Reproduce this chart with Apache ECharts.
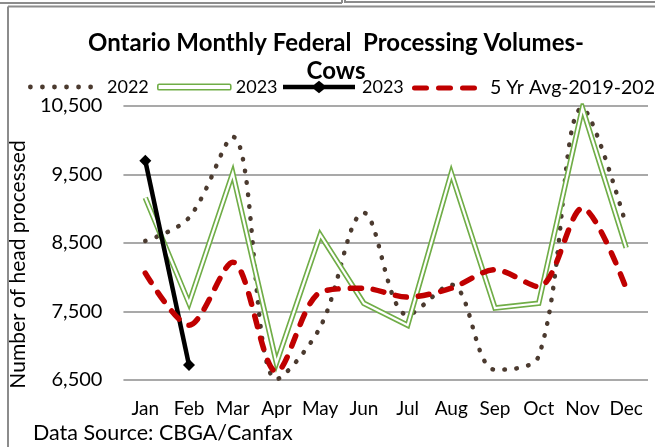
<!DOCTYPE html>
<html>
<head>
<meta charset="utf-8">
<script src="https://cdn.jsdelivr.net/npm/echarts@6/dist/echarts.min.js"></script>
<style>
html,body{margin:0;padding:0;background:#fff;}
#c{width:655px;height:447px;}
</style>
</head>
<body>
<div id="c"></div>
<script>
var months = ['Jan','Feb','Mar','Apr','May','Jun','Jul','Aug','Sep','Oct','Nov','Dec'];
var y2022 = [8530, 8870, 10050, 6510, 7270, 8940, 7450, 7890, 6650, 6850, 10470, 8760];
var y2023green = [9160, 7620, 9520, 6750, 8620, 7620, 7300, 9520, 7550, 7620, 10470, 8430];
var y2023black = [9700, 6720];
var avg5 = [8060, 7300, 8220, 6620, 7780, 7840, 7710, 7840, 8110, 7860, 9010, 7840];

var FONT = 'Lato, "Noto Sans", sans-serif';
var GREEN = '#70AD47', BROWN = '#4b3a2f', RED = '#C00000';

// legend icon shapes
function dotsPath(n, w, r) {
  var p = '', step = (w - 2 * r) / (n - 1);
  for (var i = 0; i < n; i++) {
    var cx = r + i * step;
    p += 'M' + (cx - r) + ',' + r + ' A' + r + ',' + r + ' 0 1 0 ' + (cx + r) + ',' + r +
         ' A' + r + ',' + r + ' 0 1 0 ' + (cx - r) + ',' + r + ' Z ';
  }
  return 'path://' + p;
}
var dashPath = 'path://M2.5,0 H14.5 A2.5,2.5 0 0 1 14.5,5 H2.5 A2.5,2.5 0 0 1 2.5,0 Z ' +
               'M26.5,0 H38.5 A2.5,2.5 0 0 1 38.5,5 H26.5 A2.5,2.5 0 0 1 26.5,0 Z ' +
               'M50.5,0 H62.5 A2.5,2.5 0 0 1 62.5,5 H50.5 A2.5,2.5 0 0 1 50.5,0 Z';
var blackPath = 'path://M0,4 L31,4 L36,0 L41,4 L72,4 L72,8.5 L41,8.5 L36,12.5 L31,8.5 L0,8.5 Z';

var chart = echarts.init(document.getElementById('c'), null, {renderer: 'canvas'});

function lg(item, left, w, h, pad, fs) {
  return {
    data: [item], left: left, top: 78, itemWidth: w, itemHeight: h,
    selectedMode: false, padding: 0,
    formatter: function (n) { return n.trim(); },
    textStyle: {fontFamily: FONT, fontSize: fs || 18, color: '#000', padding: [0, 0, 0, pad]}
  };
}

chart.setOption({
  animation: false,
  textStyle: {fontFamily: FONT},
  title: {
    text: 'Ontario Monthly Federal  Processing Volumes-\nCows',
    left: 336, top: 29, textAlign: 'center', padding: 0,
    textStyle: {fontFamily: FONT, fontSize: 24, fontWeight: 'bold', color: '#000', lineHeight: 28}
  },
  legend: [
    lg({name: '2022', icon: dotsPath(6, 65, 2.4), itemStyle: {color: BROWN, borderWidth: 0}}, 28, 65, 4.8, 9),
    lg({name: '2023', icon: 'roundRect', itemStyle: {color: '#fff', borderColor: GREEN, borderWidth: 1.6}}, 157, 73, 5.5, 0),
    lg({name: '2023 ', icon: blackPath, itemStyle: {color: '#000', borderWidth: 0}}, 283, 72, 12.5, 2),
    lg({name: '5 Yr Avg-2019-2023', icon: dashPath, itemStyle: {color: RED, borderWidth: 0}}, 412, 65, 5, 8, 19.5)
  ],
  grid: {left: 121, right: 7, top: 106, bottom: 67, containLabel: false},
  xAxis: {
    type: 'category', data: months, boundaryGap: true,
    axisLine: {show: false}, axisTick: {show: false},
    axisLabel: {fontFamily: FONT, fontSize: 19, color: '#000', margin: 19, interval: 0}
  },
  yAxis: {
    type: 'value', min: 6500, max: 10500, interval: 1000,
    name: 'Number of head processed', nameLocation: 'middle', nameRotate: 90, nameGap: 88,
    nameTextStyle: {fontFamily: FONT, fontSize: 21, color: '#000', padding: [0, 43, 0, 0]},
    axisLine: {show: false}, axisTick: {show: false},
    axisLabel: {fontFamily: FONT, fontSize: 20, color: '#000', margin: 21,
      formatter: function (v) { return v.toLocaleString('en-US'); }},
    splitLine: {lineStyle: {color: '#8c8c8c', width: 1.5}}
  },
  series: [
    {
      name: '2022', type: 'line', data: y2022, smooth: 0.35, symbol: 'none',
      lineStyle: {color: BROWN, width: 4.5, type: [0.5, 11.5], cap: 'round'}, itemStyle: {color: BROWN}, z: 2
    },
    {
      name: '2023', type: 'line', data: y2023green, symbol: 'none',
      lineStyle: {color: GREEN, width: 5.5, join: 'miter'}, itemStyle: {color: GREEN}, z: 3
    },
    {
      name: 'inner', type: 'line', data: y2023green, symbol: 'none',
      lineStyle: {color: '#fff', width: 2.2, join: 'miter'}, z: 4
    },
    {
      name: '2023 ', type: 'line', data: y2023black, symbol: 'diamond', symbolSize: 12,
      lineStyle: {color: '#000', width: 4.5}, itemStyle: {color: '#000'}, z: 5
    },
    {
      name: '5 Yr Avg-2019-2023', type: 'line', data: avg5, smooth: 0.3, symbol: 'none',
      lineStyle: {color: RED, width: 5.5, type: [11, 12], cap: 'round'}, itemStyle: {color: RED}, z: 6
    }
  ],
  graphic: [
    {type: 'line', shape: {x1: 0, y1: 3, x2: 342, y2: 3}, style: {stroke: '#8c8c8c', lineWidth: 2}},
    {type: 'line', shape: {x1: 342, y1: 0, x2: 342, y2: 3}, style: {stroke: '#8c8c8c', lineWidth: 2}},
    {type: 'line', shape: {x1: 345, y1: 0, x2: 345, y2: 3}, style: {stroke: '#8c8c8c', lineWidth: 2}},
    {type: 'line', shape: {x1: 345, y1: 2, x2: 655, y2: 2}, style: {stroke: '#8c8c8c', lineWidth: 2}},
    {type: 'line', shape: {x1: 8, y1: 6.5, x2: 655, y2: 6.5}, style: {stroke: '#8c8c8c', lineWidth: 2}},
    {type: 'line', shape: {x1: 8, y1: 6.5, x2: 8, y2: 447}, style: {stroke: '#8c8c8c', lineWidth: 2}},
    {type: 'text', left: 33, top: 422, style: {text: 'Data Source: CBGA/Canfax', font: '21.5px ' + FONT, fill: '#000'}}
  ]
});
</script>
</body>
</html>
